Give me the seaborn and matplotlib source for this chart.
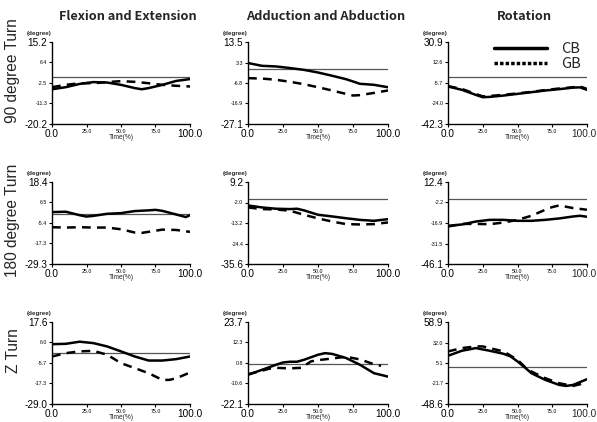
import matplotlib
matplotlib.use("Agg")
import matplotlib.pyplot as plt
from matplotlib.lines import Line2D
import seaborn as sns
import pandas as pd

sns.set_style("ticks")
plt.rcParams['font.family'] = ['Liberation Sans', 'DejaVu Sans']

col_titles = ["Flexion and Extension", "Adduction and Abduction", "Rotation"]
row_titles = ["90 degree Turn", "180 degree Turn", "Z Turn"]

# y tick labels per panel (row, col)
yticks_r1 = [[-20.2, -11.3, -2.5, 6.4, 15.2], [-27.1, -16.9, -6.8, 3.3, 13.5], [-42.3, -24.0, -5.7, 12.6, 30.9]]
yticks_r2 = [[-29.3, -17.3, -5.4, 6.5, 18.4], [-35.6, -24.4, -13.2, -2.0, 9.2], [-46.1, -31.5, -16.9, -2.2, 12.4]]
yticks_r3 = [[-29.0, -17.3, -5.7, 6.0, 17.6], [-22.1, -10.6, 0.8, 12.3, 23.7], [-48.6, -21.7, 5.1, 32.0, 58.9]]
xticks = [0.0, 25.0, 50.0, 75.0, 100.0]

# ---- Row 1: 90 degree turn ----
fe90_x_cb = [0, 10, 20, 30, 40, 50, 60, 65, 70, 80, 90, 100]
fe90_cb = [-5.2, -4.3, -2.9, -2.1, -2.3, -3.3, -4.7, -5.2, -4.7, -3.3, -1.6, -0.8]
fe90_x_gb = [0, 10, 20, 30, 40, 50, 60, 70, 80, 90, 100]
fe90_gb = [-4.3, -3.3, -2.6, -2.6, -2.1, -1.7, -2.0, -2.6, -3.3, -3.7, -4.0]

aa90_x_cb = [0, 10, 20, 30, 40, 50, 60, 70, 80, 90, 100]
aa90_cb = [3.1, 1.7, 1.4, 0.6, -0.3, -1.6, -3.2, -4.9, -7.2, -7.7, -8.9]
aa90_x_gb = [0, 10, 20, 30, 40, 50, 60, 70, 75, 80, 90, 100]
aa90_gb = [-4.4, -4.6, -5.2, -6.2, -7.4, -8.9, -10.5, -12.2, -13.0, -12.8, -11.7, -10.5]

ro90_x_cb = [0, 10, 20, 25, 30, 40, 50, 60, 70, 80, 90, 95, 100]
ro90_cb = [-8.8, -11.8, -16.3, -18.4, -18.1, -16.9, -15.4, -13.9, -12.4, -11.2, -9.8, -9.6, -11.8]
ro90_x_gb = [0, 10, 20, 25, 30, 40, 50, 60, 70, 80, 90, 95, 100]
ro90_gb = [-8.5, -11.0, -15.5, -17.6, -17.3, -16.2, -15.0, -13.6, -12.0, -10.6, -9.5, -8.8, -11.0]

# ---- Row 2: 180 degree turn ----
fe180_x_cb = [0, 10, 20, 25, 30, 40, 50, 60, 70, 75, 80, 90, 97, 100]
fe180_cb = [0.9, 1.1, -0.9, -1.7, -1.3, -0.1, 0.3, 1.5, 1.9, 2.2, 1.6, -0.5, -2.0, -0.9]
fe180_x_gb = [0, 10, 20, 30, 40, 50, 60, 65, 70, 80, 90, 100]
fe180_gb = [-7.9, -8.1, -7.9, -8.1, -8.1, -9.1, -11.0, -11.2, -10.6, -9.3, -9.5, -10.6]

aa180_x_cb = [0, 10, 20, 30, 35, 40, 50, 60, 70, 80, 90, 100]
aa180_cb = [-3.6, -4.7, -5.4, -5.6, -5.4, -6.3, -8.7, -9.6, -10.6, -11.5, -12.0, -11.1]
aa180_x_gb = [0, 10, 20, 30, 40, 50, 60, 70, 80, 90, 100]
aa180_gb = [-4.7, -5.6, -5.8, -6.5, -8.7, -10.7, -12.4, -13.8, -14.0, -13.8, -12.9]

ro180_x_cb = [0, 10, 20, 30, 40, 50, 60, 70, 80, 90, 95, 100]
ro180_cb = [-18.9, -17.9, -15.8, -14.6, -14.6, -15.3, -15.3, -14.6, -13.6, -12.2, -11.7, -12.4]
ro180_x_gb = [0, 10, 20, 30, 40, 50, 60, 70, 75, 80, 90, 100]
ro180_gb = [-19.4, -17.5, -17.5, -17.7, -16.5, -14.6, -11.7, -7.4, -5.5, -4.3, -6.2, -7.4]

# ---- Row 3: Z turn ----
fez_x_cb = [0, 10, 20, 30, 40, 50, 60, 70, 80, 90, 100]
fez_cb = [5.0, 5.2, 6.4, 5.6, 3.7, 0.9, -2.0, -4.3, -4.3, -3.5, -2.0]
fez_x_gb = [0, 10, 20, 30, 40, 50, 60, 70, 80, 85, 90, 100]
fez_gb = [-2.0, -0.1, 0.9, 1.2, -1.0, -5.8, -8.6, -11.5, -15.3, -15.3, -14.4, -11.1]

aaz_x_cb = [0, 10, 20, 25, 30, 35, 40, 50, 55, 60, 70, 80, 90, 100]
aaz_cb = [-5.8, -3.0, -0.2, 1.1, 1.5, 1.5, 2.6, 5.4, 6.3, 5.9, 3.6, -0.2, -4.9, -6.8]
aaz_x_gb = [0, 10, 15, 20, 30, 38, 45, 50, 60, 70, 80, 90, 95]
aaz_gb = [-5.5, -3.5, -2.4, -1.9, -2.2, -1.9, 1.7, 2.4, 3.3, 4.3, 2.8, 0.1, -0.8]

roz_x_cb = [0, 10, 20, 30, 40, 45, 50, 55, 60, 70, 80, 85, 90, 100]
roz_cb = [14.6, 21.2, 24.7, 21.2, 17.2, 13.8, 7.2, -0.3, -8.2, -17.0, -23.6, -24.9, -23.6, -16.1]
roz_x_gb = [0, 10, 20, 25, 30, 40, 50, 55, 60, 70, 80, 90, 100]
roz_gb = [20.3, 24.7, 26.9, 26.9, 24.7, 20.3, 9.3, 0.5, -6.0, -14.8, -21.4, -24.9, -20.5]

panels = [
    [(fe90_x_cb, fe90_cb, fe90_x_gb, fe90_gb), (aa90_x_cb, aa90_cb, aa90_x_gb, aa90_gb), (ro90_x_cb, ro90_cb, ro90_x_gb, ro90_gb)],
    [(fe180_x_cb, fe180_cb, fe180_x_gb, fe180_gb), (aa180_x_cb, aa180_cb, aa180_x_gb, aa180_gb), (ro180_x_cb, ro180_cb, ro180_x_gb, ro180_gb)],
    [(fez_x_cb, fez_cb, fez_x_gb, fez_gb), (aaz_x_cb, aaz_cb, aaz_x_gb, aaz_gb), (roz_x_cb, roz_cb, roz_x_gb, roz_gb)],
]
yticks_all = [yticks_r1, yticks_r2, yticks_r3]

W, H = 597, 422
fig = plt.figure(figsize=(W / 100, H / 100), dpi=100)

col_px = [(52, 190), (248, 388), (448, 587)]
row_px = [(42, 124), (182, 264), (322, 404)]
row_label_y = [71, 220, 351]

def fmt(v):
    return f"{v:.1f}"

for r in range(3):
    for c in range(3):
        x0, x1 = col_px[c]
        y0, y1 = row_px[r]
        ax = fig.add_axes([x0 / W, 1 - y1 / H, (x1 - x0) / W, (y1 - y0) / H])
        xc, yc, xg, yg = panels[r][c]
        df_cb = pd.DataFrame({"Time": xc, "Angle": yc})
        df_gb = pd.DataFrame({"Time": xg, "Angle": yg})
        ax.axhline(0, color="#555555", lw=0.9, zorder=1)
        sns.lineplot(data=df_cb, x="Time", y="Angle", ax=ax, color="black", lw=1.8, zorder=3)
        sns.lineplot(data=df_gb, x="Time", y="Angle", ax=ax, color="black", lw=1.8,
                     linestyle=(0, (3.5, 2.5)), zorder=2)
        yt = yticks_all[r][c]
        ax.set_ylim(yt[0], yt[-1])
        ax.set_xlim(0, 100)
        ax.set_yticks(yt)
        ax.set_xticks(xticks)
        ax.set_yticklabels([fmt(v) for v in yt])
        xlab_text = [fmt(v) for v in xticks]
        if c == 2:
            last = xlab_text[-1]
            xlab_text[-1] = ""
            ax.annotate(last, xy=(1, 0), xycoords="axes fraction",
                        xytext=(-2.5, -3.4), textcoords="offset points",
                        ha="center", va="top", fontsize=7.2)
        ax.set_xticklabels(xlab_text)
        for i, lab in enumerate(ax.get_yticklabels()):
            if i in (0, len(yt) - 1):
                lab.set_fontsize(7.2)
            else:
                lab.set_fontsize(3.8)
        for i, lab in enumerate(ax.get_xticklabels()):
            if i in (0, len(xticks) - 1):
                lab.set_fontsize(7.2)
            else:
                lab.set_fontsize(3.8)
        ax.tick_params(axis="both", length=2.2, width=0.8, pad=1.2, colors="black")
        ax.set_ylabel("")
        ax.set_xlabel("Time(%)", fontsize=4.8, labelpad=-3.5)
        for s in ("left", "bottom"):
            ax.spines[s].set_linewidth(1.0)
            ax.spines[s].set_color("black")
        sns.despine(ax=ax)
        fig.text((x0 - 25) / W, 1 - (y0 - 9) / H, "(degree)", fontsize=4.5,
                 fontweight="bold", ha="left", va="center")
        if r == 0 and c == 2:
            handles = [Line2D([0], [0], color="black", lw=2.5),
                       Line2D([0], [0], color="black", lw=2.5, linestyle=(0, (1, 0.6)))]
            ax.legend(handles, ["CB", "GB"], loc="upper right", frameon=False,
                      prop={"family": ["Noto Sans CJK KR"], "size": 10.5},
                      handlelength=3.6, handletextpad=1.0,
                      borderaxespad=0.0, labelspacing=0.05,
                      bbox_to_anchor=(1.0, 1.07))

for c, t in enumerate(col_titles):
    x0, x1 = col_px[c]
    fig.text((x0 + x1) / 2 / W + 0.012, 1 - 17 / H, t, fontsize=9.2, fontweight="bold",
             family=["Noto Sans CJK KR", "DejaVu Sans"], ha="center", va="center")

for r, t in enumerate(row_titles):
    fig.text(13 / W, 1 - row_label_y[r] / H, t, fontsize=11.2, rotation=90,
             ha="center", va="center")

fig.savefig("out.png", dpi=100)
